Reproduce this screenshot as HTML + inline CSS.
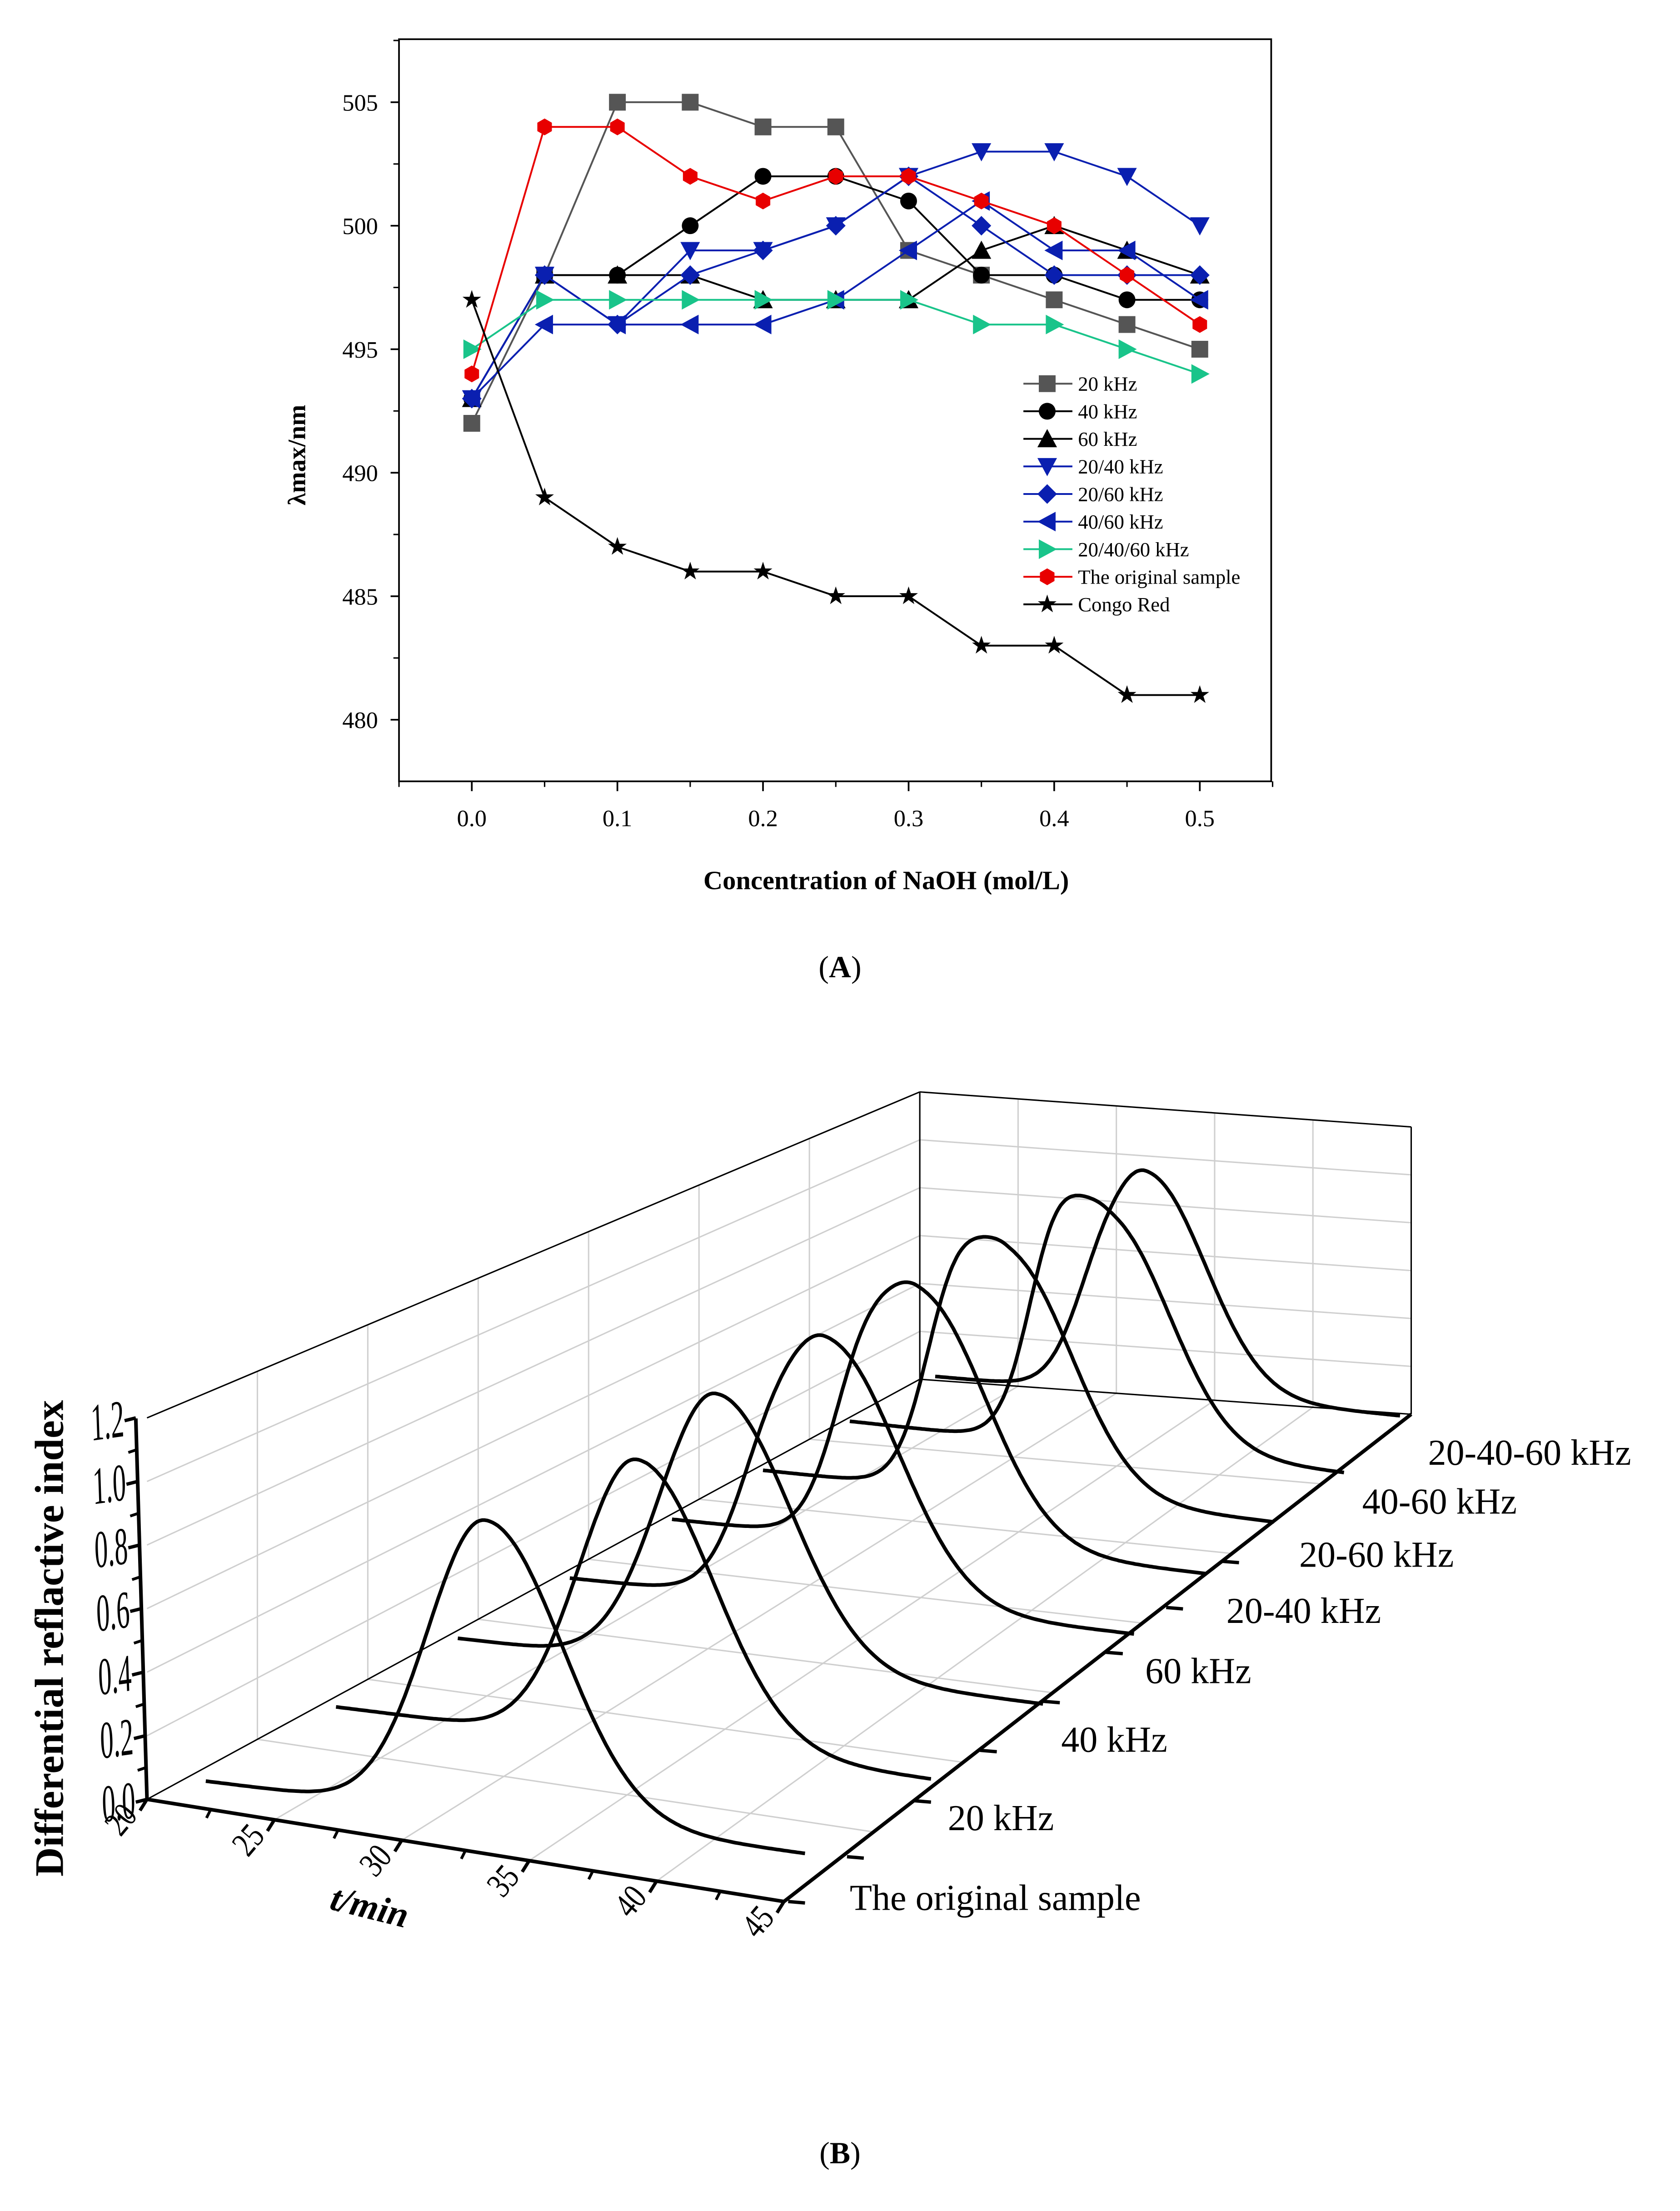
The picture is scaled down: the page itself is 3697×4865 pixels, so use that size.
<!DOCTYPE html>
<html><head><meta charset="utf-8">
<style>
html,body{margin:0;padding:0;background:#fff;}
svg{display:block;}
text{font-family:"Liberation Serif",serif;}
</style></head>
<body>
<svg id="fig" width="3697" height="4865" viewBox="0 0 1200 1579" preserveAspectRatio="none" xmlns="http://www.w3.org/2000/svg">
<rect width="1200" height="1579" fill="#fff"/>
<g id="panelA"></g>
<g id="panelB"></g>
<text x="600" y="698" text-anchor="middle" font-size="22">(<tspan font-weight="bold">A</tspan>)</text>
<text x="600" y="1545" text-anchor="middle" font-size="22">(<tspan font-weight="bold">B</tspan>)</text>
</svg>
<script>
// ---------- Panel A data ----------
const concentrations = [0,0.05,0.1,0.15,0.2,0.25,0.3,0.35,0.4,0.45,0.5];
const yTicksA = [480,485,490,495,500,505];
const xTicksA = [0.0,0.1,0.2,0.3,0.4,0.5];
const seriesNames = ["20 kHz","40 kHz","60 kHz","20/40 kHz","20/60 kHz","40/60 kHz","20/40/60 kHz","The original sample","Congo Red"];
const s20 = [492,498,505,505,504,504,499,498,497,496,495];
const s40 = [493,498,498,500,502,502,501,498,498,497,497];
const s60 = [493,498,498,498,497,497,497,499,500,499,498];
const s2040 = [493,498,496,499,499,500,502,503,503,502,500];
const s2060 = [493,498,496,498,499,500,502,500,498,498,498];
const s4060 = [493,496,496,496,496,497,499,501,499,499,497];
const s204060 = [495,497,497,497,497,497,497,496,496,495,494];
const sOrig = [494,504,504,502,501,502,502,501,500,498,496];
const sCongo = [497,489,487,486,486,485,485,483,483,481,481];
const seriesValues = [s20,s40,s60,s2040,s2060,s4060,s204060,sOrig,sCongo];

// ---------- Panel B data ----------
const bSeriesLabels = ["The original sample","20 kHz","40 kHz","60 kHz","20-40 kHz","20-60 kHz","40-60 kHz","20-40-60 kHz"];
const peakTimes = [33.1,34.0,32.5,32.8,32.9,33.3,34.3,32.8];
const peakHeights = [0.93,0.93,0.93,0.93,0.93,0.93,0.93,0.93];
const shoulderHeights = [0,0,0,0.15,0.25,0.35,0.4,0.12];
const tTicksB = [20,25,30,35,40,45];
const hTicksB = [0.0,0.2,0.4,0.6,0.8,1.0,1.2];

const NS="http://www.w3.org/2000/svg";
function mk(tag,attrs,parent){const e=document.createElementNS(NS,tag);for(const k in attrs)e.setAttribute(k,attrs[k]);parent.appendChild(e);return e;}

// ===== Panel A =====
const A=document.getElementById('panelA');
const xA=v=>337+v*1040;
const yA=v=>73+(505-v)*17.64;
let frame=mk('rect',{x:285,y:28,width:623,height:530,fill:'none',stroke:'#000','stroke-width':1.2},A);


yTicksA.forEach(v=>{
  let l=mk('line',{x1:285,x2:279,y1:yA(v),y2:yA(v),stroke:'#000','stroke-width':1.2},A);
  
  
  let m=mk('line',{x1:285,x2:281,y1:yA(v+2.5),y2:yA(v+2.5),stroke:'#000','stroke-width':1},A);
  
  
  let t=mk('text',{x:270,y:yA(v)+6,'text-anchor':'end','font-size':17},A);
  t.textContent=v;
  
  
});
xTicksA.forEach(v=>{
  let l=mk('line',{x1:xA(v),x2:xA(v),y1:558,y2:565,stroke:'#000','stroke-width':1.2},A);
  
  
  let m=mk('line',{x1:xA(v+0.05),x2:xA(v+0.05),y1:558,y2:562,stroke:'#000','stroke-width':1},A);
  
  
  let t=mk('text',{x:xA(v),y:590,'text-anchor':'middle','font-size':17},A);
  t.textContent=v.toFixed(1);
  
  
});
let m0=mk('line',{x1:xA(-0.05),x2:xA(-0.05),y1:558,y2:562,stroke:'#000','stroke-width':1},A);


let xt=mk('text',{x:633,y:635,'text-anchor':'middle','font-size':19,'font-weight':'bold'},A);
xt.textContent='Concentration of NaOH (mol/L)';


let yt=mk('text',{x:0,y:0,'text-anchor':'middle','font-size':18,'font-weight':'bold',transform:'translate(218,325) rotate(-90)'},A);
yt.textContent='λmax/nm';



const colors=['#555555','#000','#000','#0a1fb0','#0a1fb0','#0a1fb0','#19c48a','#e80000','#000'];
const markers=['square','circle','up','down','diamond','left','right','hexagon','star'];
function marker(type,cx,cy,c,parent){
  const r=6;let e;
  if(type==='square')e=mk('rect',{x:cx-r,y:cy-r,width:2*r,height:2*r,fill:c},parent);
  else if(type==='circle')e=mk('circle',{cx:cx,cy:cy,r:r,fill:c},parent);
  else{
    let pts;
    if(type==='up')pts=[[0,-r-1],[r+1,r],[-r-1,r]];
    else if(type==='down')pts=[[0,r+1],[r+1,-r],[-r-1,-r]];
    else if(type==='diamond')pts=[[0,-r-1],[r+1,0],[0,r+1],[-r-1,0]];
    else if(type==='left')pts=[[-r-1,0],[r,-r-1],[r,r+1]];
    else if(type==='right')pts=[[r+1,0],[-r,-r-1],[-r,r+1]];
    else if(type==='hexagon'){pts=[];for(let k=0;k<6;k++){const a=Math.PI/6+k*Math.PI/3;pts.push([r*Math.cos(a),r*Math.sin(a)]);}}
    else {pts=[];for(let k=0;k<10;k++){const a=-Math.PI/2+k*Math.PI/5;const rr=k%2?r*0.45:r+1;pts.push([rr*Math.cos(a),rr*Math.sin(a)]);}}
    e=mk('polygon',{points:pts.map(p=>(cx+p[0])+','+(cy+p[1])).join(' '),fill:c},parent);
  }
  return e;
}
seriesValues.forEach((vals,si)=>{
  const g=mk('g',{},A);
  
  
  const pl=mk('polyline',{points:vals.map((v,i)=>xA(concentrations[i])+','+yA(v)).join(' '),fill:'none',stroke:colors[si],'stroke-width':1.3},g);
  
  
  vals.forEach((v,i)=>{
    const mm=marker(markers[si],xA(concentrations[i]),yA(v),colors[si],g);
    
    
  });
});
// legend
const lg=mk('g',{},A);


seriesNames.forEach((n,i)=>{
  const y=274+i*19.7;
  const e=mk('g',{},lg);
  
  
  mk('line',{x1:731,x2:766,y1:y,y2:y,stroke:colors[i],'stroke-width':1.3},e);
  marker(markers[i],748,y,colors[i],e);
  const t=mk('text',{x:770,y:y+5,'font-size':14.5},e);
  t.textContent=n;
});

// ===== Panel B =====
const B=document.getElementById('panelB');
const F0=[105,1285],F1=[560,1358],K0=[657,985],K1=[1008,1010];
function P(t,d,h){
  const s=(t-20)/25;
  const fx=F0[0]+(F1[0]-F0[0])*s, fy=F0[1]+(F1[1]-F0[1])*s;
  const bx=K0[0]+(K1[0]-K0[0])*s, by=K0[1]+(K1[1]-K0[1])*s;
  const x=fx+(bx-fx)*d, y=fy+(by-fy)*d;
  const vs=227-(227-171)*d;
  return [x,y-h*vs];
}
const grid=mk('g',{stroke:'#cfcfcf','stroke-width':1,fill:'none'},B);


function seg(a,b,par,attrs){const l=mk('line',Object.assign({x1:a[0],y1:a[1],x2:b[0],y2:b[1]},attrs||{}),par);return l;}
for(let t=25;t<45;t+=5)seg(P(t,0,0),P(t,1,0),grid);
for(let d=1/7;d<1;d+=1/7)seg(P(20,d,0),P(45,d,0),grid);
for(let h=0.2;h<1.21;h+=0.2)seg(P(20,1,h),P(45,1,h),grid);
for(let t=25;t<45;t+=5)seg(P(t,1,0),P(t,1,1.2),grid);
for(let h=0.2;h<1.21;h+=0.2)seg(P(20,0,h),P(20,1,h),grid);
for(let d=1/7;d<1;d+=1/7)seg(P(20,d,0),P(20,d,1.2),grid);
const edges=mk('g',{stroke:'#000','stroke-width':1,fill:'none'},B);


seg(P(20,0,1.2),P(20,1,1.2),edges);
seg(P(20,1,1.2),P(45,1,1.2),edges);
seg(P(20,1,0),P(20,1,1.2),edges);
seg(P(45,1,0),P(45,1,1.2),edges);
seg(P(20,0,0),P(20,1,0),edges);
seg(P(20,1,0),P(45,1,0),edges);
const ax=mk('g',{stroke:'#000','stroke-width':2.6,fill:'none'},B);


const hAxisX=h=>105-8*h/1.2;
seg([105,1285],[97,1013],ax);
seg(P(20,0,0),P(45,0,0),ax);
seg(P(45,0,0),P(45,1,0),ax);
hTicksB.forEach(h=>{
  const y=1285-h*227;const x=hAxisX(h);
  const l=seg([x,y],[x-8,y+2],B,{stroke:'#000','stroke-width':2.4});
  
  
  if(h<1.2){const ym=1285-(h+0.1)*227;const xm=hAxisX(h+0.1);seg([xm,ym],[xm-6,ym+2],B,{stroke:'#000','stroke-width':2});}
  const t=mk('text',{x:0,y:0,'text-anchor':'end','font-size':38,transform:`translate(${x-8},${y+13}) scale(0.5,1) rotate(-4)`},B);
  t.textContent=h.toFixed(1);
  
  
});
tTicksB.forEach(tv=>{
  const p=P(tv,0,0);
  const l=seg(p,[p[0]-5,p[1]+8],B,{stroke:'#000','stroke-width':2.4});
  
  
  if(tv<45){const q=P(tv+2.5,0,0);seg(q,[q[0]-3,q[1]+6],B,{stroke:'#000','stroke-width':2});}
  const t=mk('text',{x:0,y:0,'text-anchor':'end','font-size':25,transform:`translate(${p[0]-6},${p[1]+12}) rotate(-50) scale(0.8,1)`},B);
  t.textContent=tv;
  
  
});
let tl=mk('text',{x:0,y:0,'text-anchor':'middle','font-size':26,'font-weight':'bold','font-style':'italic',transform:'translate(262,1370) rotate(14)'},B);
tl.textContent='t/min';


let zl=mk('text',{x:0,y:0,'text-anchor':'middle','font-size':29,'font-weight':'bold',transform:'translate(45,1170) rotate(-90)'},B);
zl.textContent='Differential reflactive index';



const startPts=[[147,1272],[240,1219],[327,1170],[407,1127],[480,1085],[545,1050],[607,1015],[668,983]];
const endPts=[[575,1325],[665,1272],[745,1218],[810,1168],[862,1125],[910,1088],[960,1053],[1000,1012]];
const tS=22.3,tE=45.5;
const labelPos=[[607,1364],[677,1307],[758,1251],[818,1202],[876,1159],[928,1119],[973,1081],[1020,1046]];
const tickPos=[[563,1358],[605,1326],[653,1286],[700,1250],[745,1215],[790,1180],[833,1148],[873,1115]];
bSeriesLabels.forEach((name,i)=>{
  const g=mk('g',{},B);
  
  
  const vs=227-57*i/7;
  const pts=[];
  for(let t=tS;t<=tE+0.001;t+=0.1){
    const f=(t-tS)/(tE-tS);
    const bx=startPts[i][0]+(endPts[i][0]-startPts[i][0])*f;
    const by=startPts[i][1]+(endPts[i][1]-startPts[i][1])*f;
    const dt=t-peakTimes[i];
    const sig=dt<0?2.2:2.9;
    let h=peakHeights[i]*Math.exp(-dt*dt/(2*sig*sig));
    const ds=t-(peakTimes[i]-2.6);
    h+=shoulderHeights[i]*Math.exp(-ds*ds/(2*1.2*1.2));
    if(dt>0)h+=0.05*peakHeights[i]*Math.exp(-dt/6)*(1-Math.exp(-dt*dt/8));
    pts.push(bx.toFixed(1)+','+(by-h*vs).toFixed(1));
  }
  const pl=mk('polyline',{points:pts.join(' '),fill:'none',stroke:'#000','stroke-width':2.6,'stroke-linejoin':'round'},g);
  
  
  const tp=tickPos[i];
  const tk=seg(tp,[tp[0]+12,tp[1]+1],B,{stroke:'#000','stroke-width':2.4});
  
  
  const t=mk('text',{x:labelPos[i][0],y:labelPos[i][1],'font-size':26},B);
  t.textContent=name;
  
  
});
</script>
</body></html>
